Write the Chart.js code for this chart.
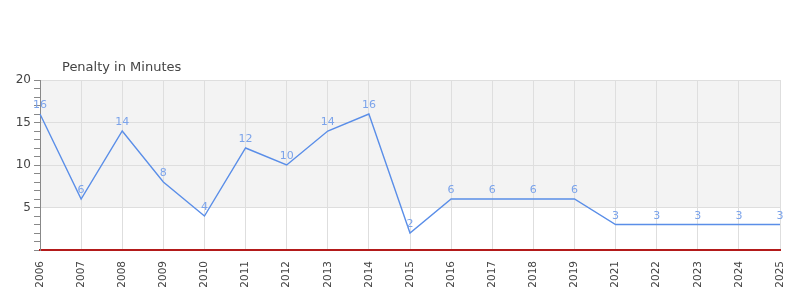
<!DOCTYPE html>
<html>
<head>
<meta charset="utf-8">
<script src="https://cdn.jsdelivr.net/npm/chart.js@4"></script>
<style>
  html, body { margin: 0; padding: 0; background: #fff; }
  #wrap { width: 800px; height: 300px; }
</style>
</head>
<body>
<div id="wrap"><canvas id="penaltyChart"></canvas></div>
<script>
const years = ['2006', '2007', '2008', '2009', '2010', '2011', '2012', '2013', '2014', '2015',
               '2016', '2017', '2018', '2019', '2021', '2022', '2023', '2024', '2025'];
const penaltyMinutes = [16, 6, 14, 8, 4, 12, 10, 14, 16, 2, 6, 6, 6, 6, 3, 3, 3, 3, 3];
const yLabelValues = [5, 10, 15, 20];
const chartTitle = 'Penalty in Minutes';

const FONT = "'DejaVu Sans', sans-serif";

// vùng nền xám 5..20 + tiêu đề
const bgPlugin = {
    id: 'bgPlugin',
    beforeDraw(chart) {
        const { ctx, chartArea, scales } = chart;
        const y = scales.y;
        const top = y.getPixelForValue(20);
        const bottom = y.getPixelForValue(5);
        ctx.save();
        ctx.fillStyle = '#f3f3f3';
        ctx.fillRect(chartArea.left, top, chartArea.right - chartArea.left, bottom - top);
        ctx.fillStyle = '#444';
        ctx.font = '13px ' + FONT;
        ctx.textBaseline = 'alphabetic';
        ctx.fillText(chartTitle, chartArea.left + 22, chartArea.top - 9);
        ctx.restore();
    }
};

// nhãn giá trị trên điểm
const valueLabels = {
    id: 'valueLabels',
    afterDatasetsDraw(chart) {
        const { ctx } = chart;
        const meta = chart.getDatasetMeta(0);
        ctx.save();
        ctx.fillStyle = '#7ba3ea';
        ctx.font = '11px ' + FONT;
        ctx.textAlign = 'center';
        ctx.textBaseline = 'bottom';
        meta.data.forEach((pt, i) => {
            ctx.fillText(String(penaltyMinutes[i]), pt.x, pt.y - 3);
        });
        ctx.restore();
    }
};

new Chart(document.getElementById('penaltyChart'), {
    type: 'line',
    data: {
        labels: years,
        datasets: [{
            label: chartTitle,
            data: penaltyMinutes,
            borderColor: '#5a8ee8',
            borderWidth: 1.4,
            pointRadius: 0,
            tension: 0,
            fill: false
        }]
    },
    options: {
        responsive: true,
        maintainAspectRatio: false,
        animation: false,
        layout: { padding: { top: 80, right: 20, left: 0, bottom: 0 } },
        plugins: {
            legend: { display: false },
            tooltip: { enabled: false }
        },
        scales: {
            x: {
                offset: false,
                grid: {
                    color: '#dedede',
                    tickLength: 6,
                    tickColor: 'transparent'
                },
                border: { color: '#b31a1a', width: 2 },
                ticks: {
                    color: '#444',
                    font: { family: FONT, size: 10.5 },
                    maxRotation: 90,
                    minRotation: 90,
                    autoSkip: false,
                    padding: 5
                },
                afterFit(scale) { scale.height = 50; }
            },
            y: {
                min: 0,
                max: 20,
                grid: {
                    color: ctx => (ctx.tick && ctx.tick.value % 5 === 0) ? '#dedede' : 'transparent',
                    tickColor: '#888',
                    tickLength: 6
                },
                border: { color: '#888', width: 1 },
                ticks: {
                    stepSize: 1,
                    autoSkip: false,
                    color: '#444',
                    font: { family: FONT, size: 12 },
                    padding: 3,
                    callback: v => yLabelValues.includes(v) ? String(v) : ''
                },
                afterFit(scale) { scale.width = 40; }
            }
        }
    },
    plugins: [bgPlugin, valueLabels]
});
</script>
</body>
</html>
